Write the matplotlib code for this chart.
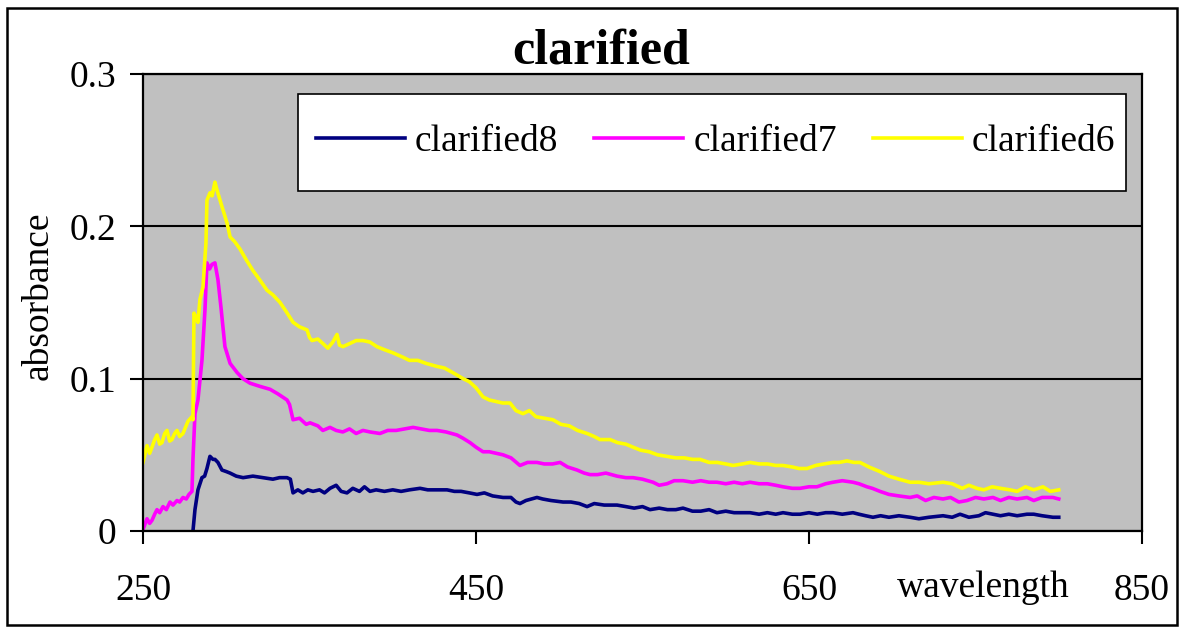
import matplotlib
matplotlib.use("Agg")
from matplotlib import pyplot as plt
from matplotlib.patches import Rectangle

# spectra (wavelength in nm, absorbance)
wl6 = [250, 251.5, 252.4, 254, 255.4, 257, 258.4, 260, 261.4, 263, 264.4, 266, 267.4, 269, 270.4, 272, 274,
       275.5, 277, 279.4, 280, 280.6, 282, 283, 284.2, 286, 287.8, 288.4, 290.2, 291.5, 293.2, 294.4, 296,
       297.4, 300.5, 302.3, 305, 308.3, 312, 316, 320, 324.5, 328, 332.3, 336, 340.1, 344, 348.5, 350,
       351.5, 355, 358.1, 361, 364, 366.5, 368, 370.1, 374, 378, 382.1, 386.3, 390.5, 395, 400, 406.2, 410,
       415, 420, 426.6, 431, 436, 442.2, 446, 450, 454.2, 458, 462, 466, 470.4, 474, 478.2, 482, 486, 491,
       496.2, 501, 506, 511, 516.7, 521, 524.5, 530.5, 535, 540, 544.3, 549, 554, 559, 564.7, 570, 575, 580,
       584.5, 590, 595, 600, 604.4, 610, 614.6, 620, 625, 630, 634.4, 640, 644, 648.8, 654, 659, 664.4, 668,
       672.8, 677, 680.6, 686, 692.6, 698, 704, 710.7, 716, 722, 730.5, 736, 742, 746, 750.9, 755, 760, 765,
       770.7, 775, 780, 785, 790.5, 795, 800]
clarified6 = [0.045, 0.052, 0.056, 0.051, 0.055, 0.060, 0.063, 0.057, 0.058, 0.064, 0.066, 0.059, 0.060,
              0.064, 0.066, 0.062, 0.064, 0.068, 0.072, 0.075, 0.073, 0.143, 0.140, 0.137, 0.152, 0.160,
              0.189, 0.217, 0.222, 0.220, 0.229, 0.224, 0.218, 0.213, 0.202, 0.193, 0.190, 0.185, 0.178,
              0.171, 0.165, 0.158, 0.155, 0.150, 0.144, 0.137, 0.134, 0.132, 0.127, 0.125, 0.126, 0.123,
              0.120, 0.124, 0.129, 0.122, 0.121, 0.123, 0.125, 0.125, 0.124, 0.121, 0.119, 0.117, 0.114,
              0.112, 0.112, 0.110, 0.108, 0.107, 0.104, 0.100, 0.098, 0.094, 0.088, 0.086, 0.085, 0.084,
              0.084, 0.079, 0.077, 0.079, 0.075, 0.074, 0.073, 0.070, 0.069, 0.066, 0.064, 0.062, 0.060,
              0.060, 0.058, 0.057, 0.055, 0.053, 0.052, 0.050, 0.049, 0.048, 0.048, 0.047, 0.047, 0.045,
              0.045, 0.044, 0.043, 0.044, 0.045, 0.044, 0.044, 0.043, 0.043, 0.042, 0.041, 0.041, 0.043,
              0.044, 0.045, 0.045, 0.046, 0.045, 0.045, 0.042, 0.039, 0.036, 0.034, 0.032, 0.032, 0.031,
              0.032, 0.031, 0.028, 0.030, 0.028, 0.027, 0.029, 0.028, 0.027, 0.026, 0.029, 0.027, 0.029,
              0.026, 0.027]

wl7 = [250, 251, 252.4, 254, 255.4, 257, 258.4, 260, 262, 264, 266.2, 268, 270.4, 272, 274, 276, 277.6,
       279.4, 280, 281.2, 283, 285.4, 287.2, 288.4, 290, 291.4, 293.2, 295, 296.8, 299.2, 302.3, 306.5,
       310, 314.3, 320, 326.3, 331, 336.5, 338, 340.1, 344, 348, 350.3, 355, 358, 362.3, 366, 370, 374,
       378, 382.1, 386.3, 392.3, 397, 402, 407, 412.2, 417, 422, 426.6, 432, 438.6, 442, 446.4, 450, 454.2,
       458, 462, 466.2, 471, 476.4, 481, 486.6, 491, 496, 500.5, 505, 510.7, 515, 518.5, 523, 528, 534.7,
       540, 544.3, 550, 556.3, 560, 564.7, 569, 574.3, 580, 585, 590, 594.7, 600, 605, 610, 614.6, 620,
       625, 630, 634.4, 640, 644.6, 650, 654.8, 660, 664.4, 670, 676.4, 680, 684.8, 688, 692.6, 698, 704,
       710.7, 715, 720, 725, 730.5, 735, 740, 744.9, 750, 755, 760.5, 765, 770, 775, 780.9, 785, 790,
       796.5, 800]
clarified7 = [0.001, 0.004, 0.008, 0.005, 0.007, 0.011, 0.014, 0.012, 0.016, 0.014, 0.019, 0.017, 0.020,
              0.019, 0.022, 0.021, 0.024, 0.026, 0.047, 0.077, 0.086, 0.112, 0.145, 0.176, 0.172, 0.175,
              0.176, 0.165, 0.147, 0.121, 0.110, 0.104, 0.100, 0.097, 0.095, 0.093, 0.090, 0.086, 0.083,
              0.073, 0.074, 0.070, 0.071, 0.069, 0.066, 0.068, 0.066, 0.065, 0.067, 0.064, 0.066, 0.065,
              0.064, 0.066, 0.066, 0.067, 0.068, 0.067, 0.066, 0.066, 0.065, 0.063, 0.061, 0.058, 0.055,
              0.052, 0.052, 0.051, 0.050, 0.048, 0.043, 0.045, 0.045, 0.044, 0.044, 0.045, 0.042, 0.040,
              0.038, 0.037, 0.037, 0.038, 0.036, 0.035, 0.035, 0.034, 0.032, 0.030, 0.031, 0.033, 0.033,
              0.032, 0.033, 0.032, 0.032, 0.031, 0.032, 0.031, 0.032, 0.031, 0.031, 0.030, 0.029, 0.028,
              0.028, 0.029, 0.029, 0.031, 0.032, 0.033, 0.032, 0.031, 0.029, 0.028, 0.026, 0.024, 0.023,
              0.022, 0.023, 0.020, 0.022, 0.021, 0.022, 0.019, 0.020, 0.022, 0.021, 0.022, 0.020, 0.022,
              0.021, 0.022, 0.020, 0.022, 0.022, 0.021]

wl8 = [280, 281.2, 283, 285.4, 287, 288.4, 290.2, 292, 293.2, 295, 297.4, 300, 302.3, 306, 310.1, 316, 322,
       328, 332, 336.5, 338.5, 340.1, 343, 346, 349, 352.1, 356, 359, 362.3, 366, 369, 372.5, 376, 380, 383,
       386.3, 390, 395, 400, 405, 410, 416.4, 421, 426, 432.6, 437, 441, 446, 450.6, 455, 460, 466.2, 471,
       474, 476.4, 480, 486.6, 490, 495, 502.3, 507, 512, 516.7, 521, 527, 534.7, 540, 545, 550, 554.5, 560,
       565, 570, 574.3, 580, 585, 590, 594.7, 600, 605, 610, 614.6, 620, 625, 630, 634.4, 640, 644.6, 650,
       655, 660, 664.4, 670, 676.4, 680, 684, 688.4, 693, 698, 704, 710.7, 716, 722, 730.5, 736, 740.7, 746,
       752, 756, 760.5, 765, 770, 775, 780.9, 785, 790, 796.5, 800]
clarified8 = [0.000, 0.014, 0.027, 0.035, 0.036, 0.041, 0.049, 0.047, 0.047, 0.045, 0.040, 0.039, 0.038,
              0.036, 0.035, 0.036, 0.035, 0.034, 0.035, 0.035, 0.034, 0.025, 0.027, 0.025, 0.027, 0.026,
              0.027, 0.025, 0.028, 0.030, 0.026, 0.025, 0.028, 0.026, 0.029, 0.026, 0.027, 0.026, 0.027,
              0.026, 0.027, 0.028, 0.027, 0.027, 0.027, 0.026, 0.026, 0.025, 0.024, 0.025, 0.023, 0.022,
              0.022, 0.019, 0.018, 0.020, 0.022, 0.021, 0.020, 0.019, 0.019, 0.018, 0.016, 0.018, 0.017,
              0.017, 0.016, 0.015, 0.016, 0.014, 0.015, 0.014, 0.014, 0.015, 0.013, 0.013, 0.014, 0.012,
              0.013, 0.012, 0.012, 0.012, 0.011, 0.012, 0.011, 0.012, 0.011, 0.011, 0.012, 0.011, 0.012,
              0.012, 0.011, 0.012, 0.011, 0.010, 0.009, 0.010, 0.009, 0.010, 0.009, 0.008, 0.009, 0.010,
              0.009, 0.011, 0.009, 0.010, 0.012, 0.011, 0.010, 0.011, 0.010, 0.011, 0.011, 0.010, 0.009,
              0.009]

x_ticks = [250, 450, 650, 850]
y_ticks = [0, 0.1, 0.2, 0.3]
y_tick_labels = ['0', '0.1', '0.2', '0.3']

plt.rcParams['font.family'] = ['Liberation Serif', 'DejaVu Serif']

fig = plt.figure(figsize=(11.8, 6.28), dpi=100)
fig.patch.set_facecolor('white')
ax = fig.add_axes([0.1212, 0.1545, 0.8466, 0.7277])
ax.set_facecolor('#C0C0C0')

ax.plot(wl8, clarified8, color='#000080', lw=2.6, label='clarified8')
ax.plot(wl7, clarified7, color='#FF00FF', lw=2.6, label='clarified7')
ax.plot(wl6, clarified6, color='#FFFF00', lw=2.6, label='clarified6')

ax.set_xlim(250, 850)
ax.set_ylim(0, 0.3)
ax.set_xticks(x_ticks)
ax.set_yticks(y_ticks)
ax.set_yticklabels(y_tick_labels)
ax.yaxis.grid(True, color='black', lw=1.5)
ax.set_axisbelow(True)
for s in ax.spines.values():
    s.set_linewidth(1.6)
ax.tick_params(axis='both', direction='out', length=9.5, width=1.5, labelsize=27)
ax.tick_params(axis='y', pad=10)
ax.tick_params(axis='x', pad=21)

# legend box drawn by hand, entries placed inside it
ax.add_patch(Rectangle(((298 - 143) / 999, (531 - 191) / 457), 828 / 999, 97 / 457, transform=ax.transAxes,
                       facecolor='white', edgecolor='black', lw=1.2, zorder=4))
leg = ax.legend(loc='center left', bbox_to_anchor=((316 - 143) / 999, (531 - 142) / 457), ncol=3,
                fontsize=27, handlelength=2.37, handletextpad=0.27, columnspacing=0.96, borderpad=0,
                borderaxespad=0, frameon=False)
leg.set_zorder(5)
for line in leg.get_lines():
    line.set_linewidth(2.6)

fig.text(601 / 1180, 1 - 52 / 628, 'clarified', fontsize=36, fontweight='bold', ha='center', va='center')
fig.text(38 / 1180, 1 - 296 / 628, 'absorbance', fontsize=27, rotation=90, ha='center', va='center')
fig.text(983 / 1180, 1 - 597 / 628, 'wavelength', fontsize=27, ha='center', va='baseline')

# outer frame of the chart
fig.patches.append(Rectangle((7 / 1180, 3 / 628), 1170 / 1180, 617 / 628, transform=fig.transFigure,
                             fill=False, edgecolor='black', lw=1.8))

plt.savefig('out.png', dpi=100)
